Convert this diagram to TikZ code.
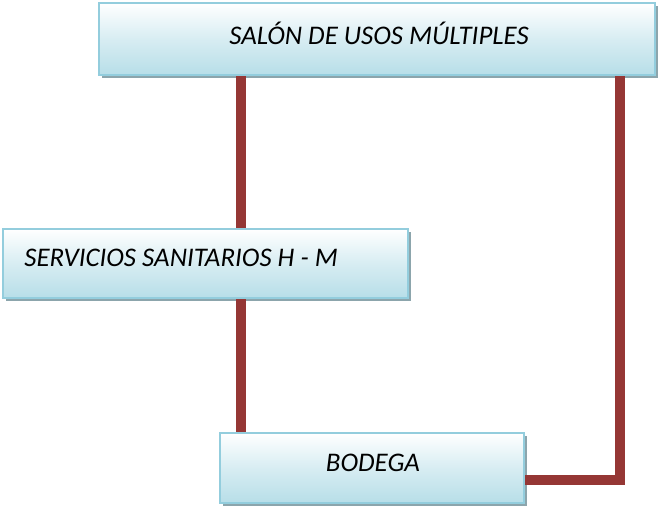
\documentclass[tikz,border=0pt]{standalone}
\usepackage{fontspec}
\setmainfont{Carlito}
\usepackage{tikz}
\usetikzlibrary{positioning, calc, shadows}
\definecolor{boxedge}{HTML}{93CDDD}
\definecolor{boxblue}{HTML}{B7DEE8}
\definecolor{boxshadow}{HTML}{8CA5AC}
\definecolor{linkred}{HTML}{953735}
\tikzset{
	roombox/.style={draw=boxedge, line width=1.5pt, top color=white, bottom color=boxblue,
		middle color=boxblue!55, inner sep=0pt,
		drop shadow={shadow xshift=1.8pt, shadow yshift=-1.8pt, fill=boxshadow, opacity=1}}
}
\tikzset{
	roomtext/.style={font=\itshape\fontsize{15.3}{17}\selectfont, inner sep=0pt}
}
\tikzset{
	link/.style={draw=linkred, line width=5.7pt}
}

\begin{document}
\begin{tikzpicture}[x=0.02cm, y=-0.02cm]
      \useasboundingbox (0,0) rectangle (661,507);

      % the three rooms
      \node[roombox, minimum width=556*0.02cm, minimum height=72*0.02cm] (salon) at (377,39) {};
      \node[roombox, minimum width=405*0.02cm, minimum height=69*0.02cm] (servicios) at (205.5,263.5) {};
      \node[roombox, minimum width=304*0.02cm, minimum height=70*0.02cm] (bodega) at (372,468) {};

      \node[roomtext] (salontxt) at (379,33) {SALÓN DE USOS MÚLTIPLES};
      \node[roomtext, anchor=west] (serviciostxt) at (24,258) {SERVICIOS SANITARIOS H - M};
      \node[roomtext] (bodegatxt) at (373,463) {BODEGA};

      % links between rooms
      \coordinate (trunk) at (241,0);
      \coordinate (ret) at (620,480);
      \draw[link] (salon.south -| trunk) -- (servicios.north -| trunk);
      \draw[link] (servicios.south -| trunk) -- (bodega.north -| trunk);
      \draw[link] (salon.south -| ret) -- (ret) -- (bodega.east |- ret);
    \end{tikzpicture}
\end{document}
